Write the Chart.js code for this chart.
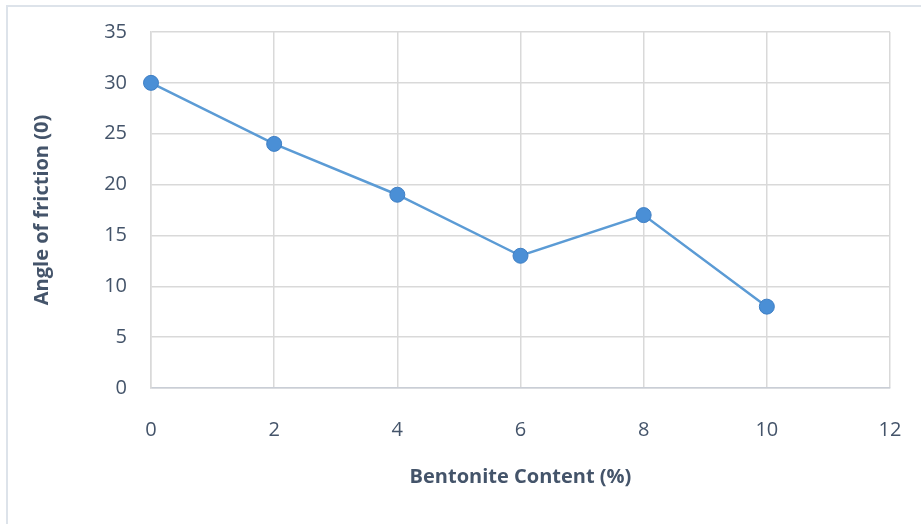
<!DOCTYPE html>
<html lang="en">
<head>
  <meta charset="UTF-8">
  <title>Angle of friction vs Bentonite Content</title>
  <script src="https://cdn.jsdelivr.net/npm/chart.js"></script>
  <style>
    body { margin: 0; background: #fff; }
    #wrap { position: relative; width: 921px; height: 524px; }
    #frame { position: absolute; left: 6px; top: 5px; width: 940px; height: 540px;
             border: 2px solid #dde3ea; box-sizing: border-box; }
    #myChart { position: absolute; left: 0; top: 0; }
  </style>
</head>
<body>
  <div id="wrap">
    <div id="frame"></div>
    <canvas id="myChart" width="921" height="524"></canvas>
  </div>

  <script>
    // data
    const bentonite = [0, 2, 4, 6, 8, 10];
    const friction = [30, 24, 19, 13, 17, 8];

    const textColor = '#44546a';
    const gridColor = '#d9d9d9';
    const fontFamily = "'Open Sans', sans-serif";

    const ctx = document.getElementById('myChart').getContext('2d');
    new Chart(ctx, {
      type: 'scatter',
      data: {
        datasets: [{
          label: 'Angle of friction',
          data: bentonite.map((x, i) => ({ x: x, y: friction[i] })),
          showLine: true,
          clip: false,
          borderColor: '#5b9bd5',
          backgroundColor: '#4a8fd6',
          borderWidth: 2.5,
          pointRadius: 7.5,
          pointHoverRadius: 7.5,
          pointBorderWidth: 1,
          pointBorderColor: '#3f7fc4'
        }]
      },
      options: {
        responsive: false,
        animation: false,
        layout: { padding: { left: 0, top: 32, right: 31, bottom: 0 } },
        plugins: {
          legend: { display: false },
          tooltip: { enabled: false }
        },
        scales: {
          x: {
            type: 'linear',
            min: 0, max: 12,
            afterFit: s => { s.height = 136; s.paddingLeft = 0; s.paddingRight = 0; },
            ticks: { stepSize: 2, padding: 30, color: textColor, font: { family: fontFamily, size: 20 } },
            grid: { color: gridColor, drawTicks: false, lineWidth: 1.5 },
            border: { color: '#c9ced6', width: 1.5 },
            title: {
              display: true, text: 'Bentonite Content (%)', color: textColor,
              font: { family: fontFamily, size: 20, weight: 'bold' },
              padding: { top: 0, bottom: 35 }
            }
          },
          y: {
            min: 0, max: 35,
            afterFit: s => { s.width = 151; s.paddingTop = 0; s.paddingBottom = 0; },
            ticks: { stepSize: 5, padding: 24, color: textColor, font: { family: fontFamily, size: 20 } },
            grid: { color: gridColor, drawTicks: false, lineWidth: 1.5 },
            border: { color: gridColor, width: 1.5 },
            title: {
              display: true, text: 'Angle of friction (0)', color: textColor,
              font: { family: fontFamily, size: 20, weight: 'bold' },
              padding: { top: 30, bottom: 0 }
            }
          }
        }
      }
    });
  </script>
</body>
</html>
